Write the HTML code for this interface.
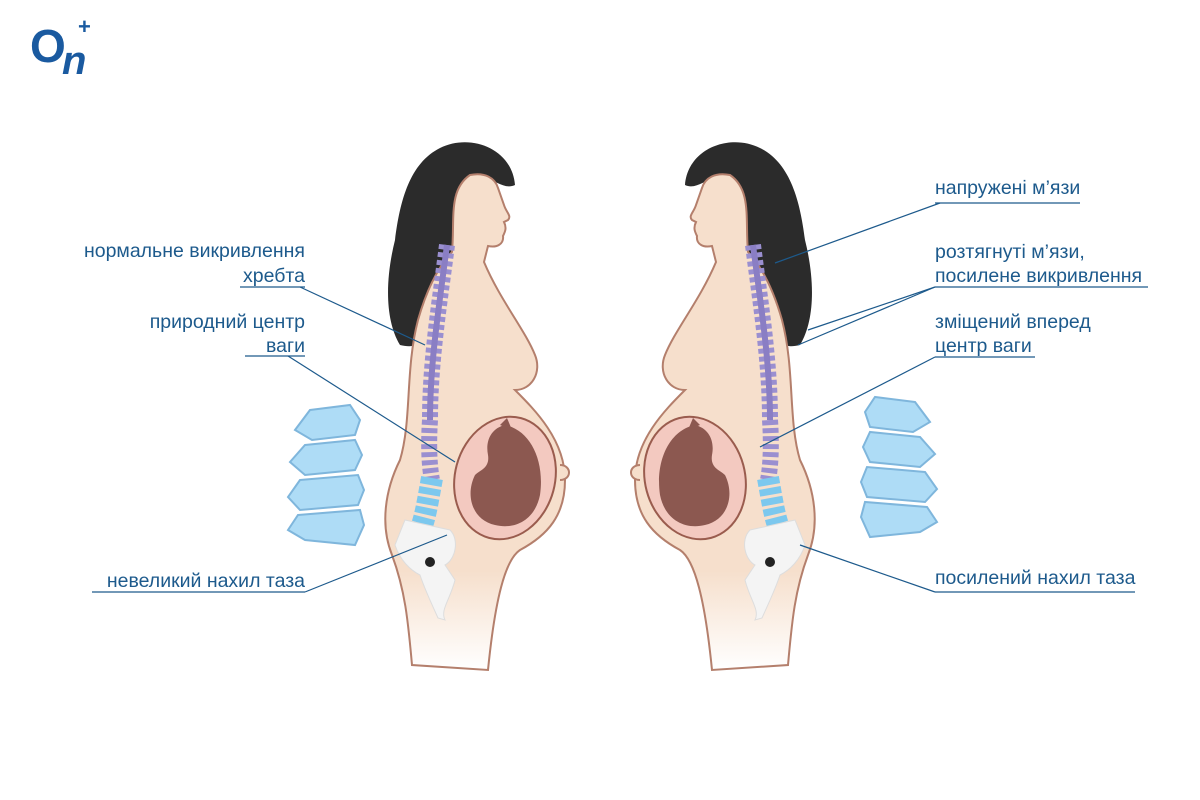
<!DOCTYPE html>
<html><head><meta charset="utf-8"><style>
html,body{margin:0;padding:0;background:#fff;}
svg{display:block}
text{font-family:"Liberation Sans",sans-serif;font-size:19.5px;fill:#1d5a8c;}
</style></head><body>
<svg width="1200" height="800" viewBox="0 0 1200 800" xmlns="http://www.w3.org/2000/svg">
<defs>
<linearGradient id="fade" x1="0" y1="0" x2="0" y2="1">
<stop offset="0.8" stop-color="#f6dfcc"/><stop offset="1" stop-color="#fff"/>
</linearGradient>
<g id="fig">
 <path d="M440 148 C470 133 512 148 515 185 C505 190 495 180 485 178 C470 200 455 240 445 300 C440 340 420 350 400 345 C385 320 385 280 395 240 C400 200 410 163 440 148 Z" fill="#2b2b2b"/>
 <path d="M470 175 C485 172 495 178 498 188 L504 205 C506 212 512 216 508 220 L504 222 C507 228 505 232 503 236 C504 244 497 248 488 246 L484 262 C500 300 525 330 535 355 C542 372 532 390 515 390 C535 410 565 440 565 480 C565 515 548 535 520 550 C505 560 495 600 488 670 L412 665 C408 620 405 590 392 555 C380 525 385 490 400 460 C412 420 405 370 418 320 C428 285 440 265 452 252 C455 220 448 190 470 175 Z" fill="url(#fade)" stroke="#b47f6c" stroke-width="2"/>
 <path d="M560 465 C572 465 572 480 560 480" fill="#f6dfcc" stroke="#b47f6c" stroke-width="2"/>
 <ellipse cx="505" cy="478" rx="50" ry="62" transform="rotate(15 505 478)" fill="#f3c9c0" stroke="#9a5c4e" stroke-width="2"/>
 <path d="M505 425 C530 430 545 460 540 495 C535 520 515 530 495 525 C472 520 465 495 475 475 C480 470 490 468 488 455 C485 440 492 428 505 425 Z" fill="#8c5850"/>
 <path d="M500 425 L507 418 L512 430 Z" fill="#8c5850"/>
 <path d="M447 245 C440 300 430 360 430 420 C428 450 430 470 432 480" stroke="#9a8fd0" stroke-width="16" fill="none" stroke-dasharray="5 3"/>
 <path d="M447 245 C440 300 430 360 430 420" stroke="#8a7ec4" stroke-width="6" fill="none"/>
 <path d="M432 478 C428 500 425 520 420 530" stroke="#7cc8ee" stroke-width="22" fill="none" stroke-dasharray="7 3"/>
 <path d="M405 520 L450 530 C460 540 455 560 445 565 L455 580 C450 600 440 610 445 620 L438 618 C430 600 425 590 420 575 C410 570 400 560 395 545 Z" fill="#f4f4f4" stroke="#ddd"/>
 <circle cx="430" cy="562" r="5" fill="#222"/>
</g>
<g id="lumbar">
 <g fill="#aedcf6" stroke="#7fb6dc" stroke-width="2">
  <path d="M310 410 L350 405 L360 420 L355 435 L312 440 L295 430 Z"/>
  <path d="M305 445 L355 440 L362 455 L355 470 L305 475 L290 462 Z"/>
  <path d="M300 480 L358 475 L364 490 L358 505 L300 510 L288 497 Z"/>
  <path d="M298 515 L360 510 L364 525 L355 545 L305 540 L288 530 Z"/>
 </g>
</g>
</defs>

<text x="30" y="62" style="font-size:46px;font-weight:bold;fill:#1a5aa0">O</text>
<text x="62" y="74" style="font-size:40px;font-weight:bold;font-style:italic;fill:#1a5aa0">n</text>
<text x="78" y="34" style="font-size:22px;font-weight:bold;fill:#1a5aa0">+</text>

<use href="#fig"/>
<use href="#fig" transform="translate(1200 0) scale(-1 1)"/>
<use href="#lumbar"/>
<use href="#lumbar" transform="translate(1225 -8) scale(-1 1)"/>

<g stroke="#1d5a8c" stroke-width="1.2" fill="none">
 <line x1="240" y1="287" x2="305" y2="287"/><line x1="300" y1="287" x2="425" y2="345"/>
 <line x1="245" y1="356" x2="305" y2="356"/><line x1="288" y1="356" x2="455" y2="462"/>
 <line x1="92" y1="592" x2="305" y2="592"/><line x1="305" y1="592" x2="447" y2="535"/>
 <line x1="935" y1="203" x2="1080" y2="203"/><line x1="940" y1="203" x2="775" y2="263"/>
 <line x1="935" y1="287" x2="1148" y2="287"/><line x1="935" y1="287" x2="808" y2="330"/><line x1="935" y1="287" x2="798" y2="345"/>
 <line x1="935" y1="357" x2="1035" y2="357"/><line x1="935" y1="357" x2="760" y2="447"/>
 <line x1="935" y1="592" x2="1135" y2="592"/><line x1="935" y1="592" x2="800" y2="545"/>
</g>
<g text-anchor="end">
 <text x="305" y="257">нормальне викривлення</text>
 <text x="305" y="282">хребта</text>
 <text x="305" y="328">природний центр</text>
 <text x="305" y="352">ваги</text>
 <text x="305" y="587">невеликий нахил таза</text>
</g>
<text x="935" y="194">напружені м’язи</text>
<text x="935" y="258">розтягнуті м’язи,</text>
<text x="935" y="282">посилене викривлення</text>
<text x="935" y="328">зміщений вперед</text>
<text x="935" y="352">центр ваги</text>
<text x="935" y="584">посилений нахил таза</text>
</svg>
</body></html>
